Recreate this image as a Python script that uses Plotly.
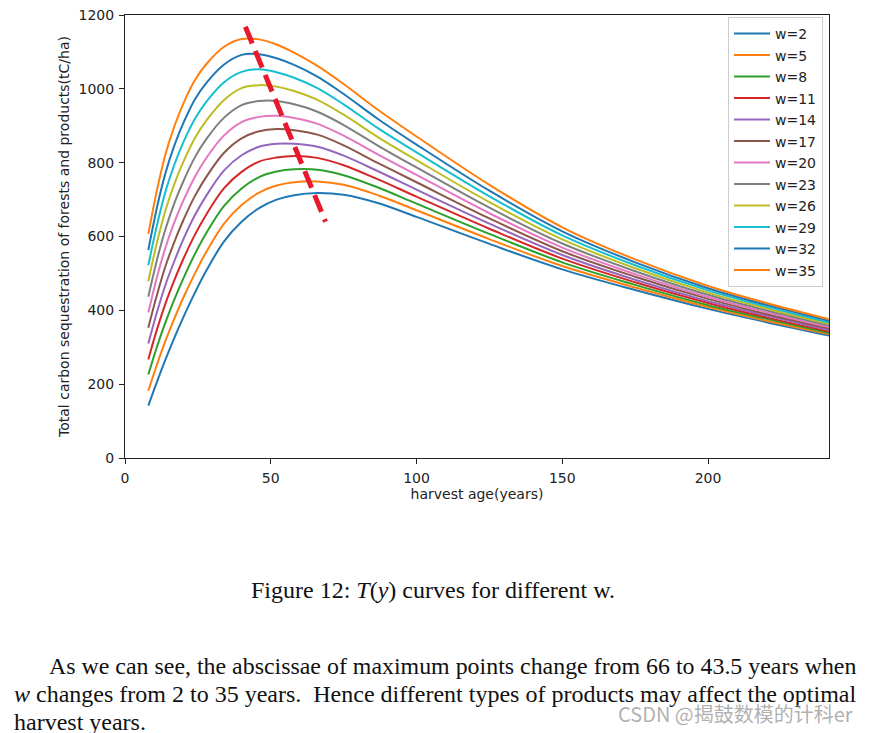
import plotly.graph_objects as go

harvest_age = [8, 11, 14, 17, 20, 24, 28, 34, 40, 46, 52, 58, 66, 75, 87, 100, 125, 150, 175, 200, 220, 242]

w_labels = ["w=2", "w=5", "w=8", "w=11", "w=14", "w=17", "w=20", "w=23", "w=26", "w=29", "w=32", "w=35"]

t_w2 = [142, 207, 269, 327, 381, 448, 509, 587, 640, 677, 700, 712, 718, 713, 690, 653, 580, 511, 455, 404, 368, 331]
t_w5 = [182, 254, 320, 379, 434, 500, 560, 635, 685, 719, 738, 747, 749, 740, 711, 671, 593, 520, 462, 409, 372, 335]
t_w8 = [226, 302, 370, 431, 486, 553, 611, 683, 730, 761, 776, 782, 781, 766, 732, 689, 607, 530, 469, 414, 377, 338]
t_w11 = [267, 349, 421, 483, 539, 605, 661, 731, 775, 803, 814, 818, 813, 793, 754, 708, 621, 540, 476, 420, 381, 342]
t_w14 = [310, 396, 472, 535, 592, 658, 712, 779, 820, 843, 851, 851, 843, 819, 776, 727, 635, 550, 483, 425, 386, 346]
t_w17 = [353, 443, 522, 587, 644, 710, 763, 827, 866, 885, 891, 888, 876, 847, 798, 747, 649, 560, 491, 431, 390, 350]
t_w20 = [394, 491, 573, 640, 697, 762, 814, 874, 910, 924, 927, 921, 905, 873, 821, 767, 663, 570, 498, 436, 395, 354]
t_w23 = [437, 538, 623, 692, 749, 815, 865, 922, 956, 967, 967, 958, 938, 902, 845, 787, 678, 581, 506, 442, 400, 358]
t_w26 = [479, 585, 674, 744, 802, 867, 915, 970, 1002, 1010, 1006, 994, 970, 930, 868, 807, 693, 592, 514, 448, 405, 362]
t_w29 = [522, 632, 725, 796, 855, 919, 966, 1018, 1046, 1053, 1045, 1030, 1002, 958, 892, 828, 709, 603, 522, 454, 410, 366]
t_w32 = [563, 680, 775, 848, 907, 972, 1017, 1066, 1092, 1094, 1083, 1065, 1033, 986, 917, 849, 724, 614, 530, 460, 415, 371]
t_w35 = [607, 727, 826, 900, 960, 1024, 1068, 1114, 1135, 1134, 1120, 1098, 1062, 1013, 942, 871, 740, 625, 538, 466, 420, 375]

series = [t_w2, t_w5, t_w8, t_w11, t_w14, t_w17, t_w20, t_w23, t_w26, t_w29, t_w32, t_w35]

max_line_x = [41.3, 68.8]
max_line_y = [1168, 640]

x_ticks = [0, 50, 100, 150, 200]
y_ticks = [0, 200, 400, 600, 800, 1000, 1200]

colors = ["#1f77b4", "#ff7f0e", "#2ca02c", "#d62728", "#9467bd", "#8c564b",
          "#e377c2", "#7f7f7f", "#bcbd22", "#17becf", "#1f77b4", "#ff7f0e"]

fig = go.Figure()
for i, (lab, ys) in enumerate(zip(w_labels, series)):
    fig.add_trace(go.Scatter(
        x=harvest_age, y=ys, mode="lines", name=lab,
        line=dict(color=colors[i], width=2, shape="spline", smoothing=1.0),
        legendgroup=lab,
    ))

fig.add_trace(go.Scatter(
    x=max_line_x, y=max_line_y, mode="lines", showlegend=False,
    line=dict(color="#e8192c", width=5, dash="18px,8px"),
))

font_main = "DejaVu Sans, Arial, sans-serif"
FS = 14
axis_common = dict(
    showline=True, linecolor="#222222", linewidth=1, mirror=True,
    ticks="outside", ticklen=5, tickwidth=1, tickcolor="#222222",
    ticklabelstandoff=2, ticklabeloverflow="allow",
    showgrid=False, zeroline=False, automargin=False,
    tickfont=dict(family=font_main, size=FS, color="#222222"),
)

# page body has an 8px margin, so the figure is offset by 8px
fig.update_layout(
    template="none",
    width=862, height=725,
    margin=dict(l=117, r=41, t=7, b=275, pad=0),
    paper_bgcolor="white", plot_bgcolor="white",
    font=dict(family=font_main, size=FS, color="#222222"),
    xaxis=dict(range=[0, 241.5], tickvals=x_ticks,
               title=dict(text="harvest age(years)", standoff=4,
                          font=dict(family=font_main, size=FS, color="#222222")),
               **axis_common),
    yaxis=dict(range=[0, 1200], tickvals=y_ticks,
               title=dict(text="Total carbon sequestration of forests and products(tC/ha)", standoff=5,
                          font=dict(family=font_main, size=FS, color="#222222")),
               **axis_common),
    legend=dict(x=(728 - 125) / 704, y=(458 - 17) / 443, xanchor="left", yanchor="top",
                bgcolor="rgba(255,255,255,0.85)", bordercolor="#cccccc", borderwidth=1,
                font=dict(family=font_main, size=FS, color="#222222"),
                tracegroupgap=0.3, itemwidth=36),
    showlegend=True,
)

serif = "Liberation Serif, Times New Roman, serif"
fig.add_annotation(
    text="Figure 12: <i>T</i>(<i>y</i>) curves for different w.",
    xref="paper", yref="paper", x=(433 - 125) / 704, y=(458 - 590) / 443,
    xanchor="center", yanchor="middle", showarrow=False,
    font=dict(family=serif, size=24, color="#111111"),
)
para_lines = [
    ("As we can see, the abscissae of maximum points change from 66 to 43.5 years when", 47, 666, 23.9),
    ("<i>w</i> changes from 2 to 35 years.  Hence different types of products may affect the optimal", 12, 694, 24),
    ("harvest years.", 12, 722, 24),
]
for txt, px, py, fs in para_lines:
    fig.add_annotation(
        text=txt, xref="paper", yref="paper",
        x=(px - 125) / 704, y=(458 - py) / 443,
        xanchor="left", yanchor="middle", showarrow=False,
        font=dict(family=serif, size=fs, color="#111111"),
    )
fig.add_annotation(
    text="CSDN @揭鼓数模的计科er", xref="paper", yref="paper",
    x=(855 - 125) / 704, y=(458 - 713) / 443,
    xanchor="right", yanchor="middle", showarrow=False,
    font=dict(family="Noto Sans CJK SC, sans-serif", size=20, color="rgba(150,150,150,0.75)"),
)

fig.write_html("out.html")
